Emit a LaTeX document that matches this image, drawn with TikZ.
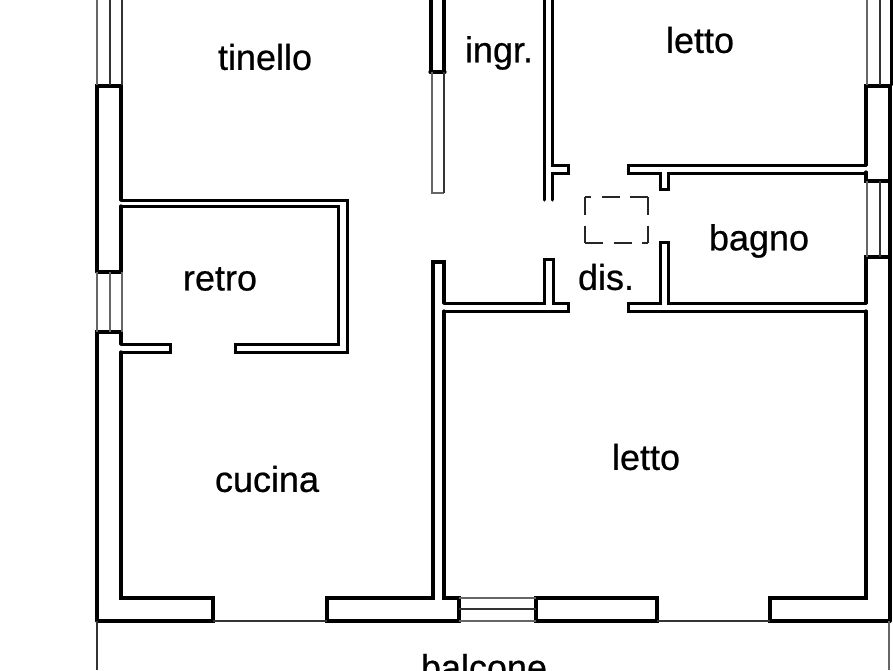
\documentclass[tikz,border=0pt]{standalone}
\usepackage{fontspec}
\newfontfamily\roomfont[FakeBold=0.6]{Liberation Sans}

\begin{document}
\begin{tikzpicture}[
    x=1pt, y=-1pt,
    every node/.style={font=\roomfont\fontsize{36}{40}\selectfont, inner sep=0pt},
    wall/.style={line width=3.2pt, line join=miter, line cap=round, black},
    wallthin/.style={line width=3pt, line cap=round, black},
    glass/.style={line width=1.7pt, black!60},
    glassdark/.style={line width=2pt, black!80},
    dashbox/.style={line width=1.7pt, black!85, dash pattern=on 18pt off 10.5pt}
]

\clip (0,0) rectangle (893,670);

%======================
% Outer walls, left side
%======================

\draw[wall] (97,272) -- (97,86) -- (121,86) -- (121,200);
\draw[wall] (121,206) -- (121,272) -- (97,272);
\draw[wall] (121,344) -- (121,332) -- (97,332) -- (97,621);
\draw[wall] (121,352) -- (121,598) -- (213,598) -- (213,621) -- (97,621);

% Bottom wall, up to the kitchen partition
\draw[wall] (444,303) -- (444,262) -- (433,262) -- (433,598) -- (327,598) -- (327,621) -- (459,621) -- (459,598) -- (444,598) -- (444,311);

% Bottom wall, right of the small window
\draw[wall] (536,621) -- (536,598) -- (657,598) -- (657,621) -- cycle;
\draw[wall] (890,621) -- (770,621) -- (770,598) -- (866,598) -- (866,311);

%======================
% Outer walls, right side
%======================

\draw[wall] (890,86) -- (866,86) -- (866,165);
\draw[wall] (866,172) -- (866,181) -- (890,181);
\draw[wall] (890,257) -- (866,257) -- (866,303);
\draw[wall] (890,86) -- (890,621);

%======================
% Retro room
%======================

\draw[wallthin] (121,200) -- (347,200) -- (347,352) -- (235,352) -- (235,344) -- (338,344) -- (338,206) -- (121,206);
\draw[wallthin] (121,344) -- (170,344) -- (170,352) -- (121,352);

%======================
% Entrance
%======================

\draw[wall] (431,0) -- (431,72);
\draw[wall] (444,0) -- (444,72);
\draw[wall] (430,72) -- (445,72);

\draw[wallthin] (544,0) -- (544,200);
\draw[wallthin] (552,0) -- (552,165) -- (568,165) -- (568,173) -- (552,173) -- (552,200);

%======================
% Bathroom and corridor
%======================

\draw[wallthin] (866,165) -- (628,165) -- (628,173) -- (660,173) -- (660,189) -- (668,189) -- (668,173) -- (866,173);

\draw[wallthin] (444,303) -- (544,303) -- (544,259) -- (553,259) -- (553,303) -- (568,303) -- (568,311) -- (444,311);
\draw[wallthin] (866,303) -- (668,303) -- (668,242) -- (660,242) -- (660,303) -- (628,303) -- (628,311) -- (866,311);

%======================
% Windows
%======================

\draw[glass] (97,0) -- (97,85);
\draw[glassdark] (110,0) -- (110,85);
\draw[glassdark] (122,0) -- (122,85);

\draw[glass] (97,272) -- (97,332);
\draw[glass] (110,272) -- (110,332);
\draw[glass] (122,272) -- (122,332);

\draw[glass] (867,0) -- (867,85);
\draw[glassdark] (880,0) -- (880,85);
\draw[wallthin] (891,0) -- (891,85);

\draw[glass] (867,181) -- (867,257);
\draw[glassdark] (880,181) -- (880,257);

\draw[glass] (432,72) -- (432,193) -- (444,193);
\draw[glassdark] (444,72) -- (444,193);

\draw[glass] (459,598) -- (536,598);
\draw[glassdark] (459,609) -- (536,609);
\draw[glass] (459,621) -- (536,621);

\draw[glassdark] (213,621) -- (327,621);
\draw[glassdark] (657,621) -- (770,621);

%======================
% Balcony
%======================

\draw[glassdark] (97,621) -- (97,670);
\draw[glass] (889,621) -- (889,670);

%======================
% Dashed square
%======================

\draw[dashbox] (648,197) -- (585,197);
\draw[dashbox] (585,243) -- (648,243);
\draw[dashbox] (585,197) -- (585,243);
\draw[dashbox] (648,197) -- (648,243);

%======================
% Room labels
%======================

\node (tinello) at (265,57)  {tinello};
\node (ingr)    at (499,53)  {ingr.};
\node (lettoA)  at (700,40)  {letto};
\node (bagno)   at (759,241) {bagno};
\node (retro)   at (220,279) {retro};
\node (dis)     at (606,277) {dis.};
\node (lettoB)  at (646,457) {letto};
\node (cucina)  at (267,479) {cucina};
\node[anchor=base] (balcone) at (484,680) {balcone};

\end{tikzpicture}
\end{document}
